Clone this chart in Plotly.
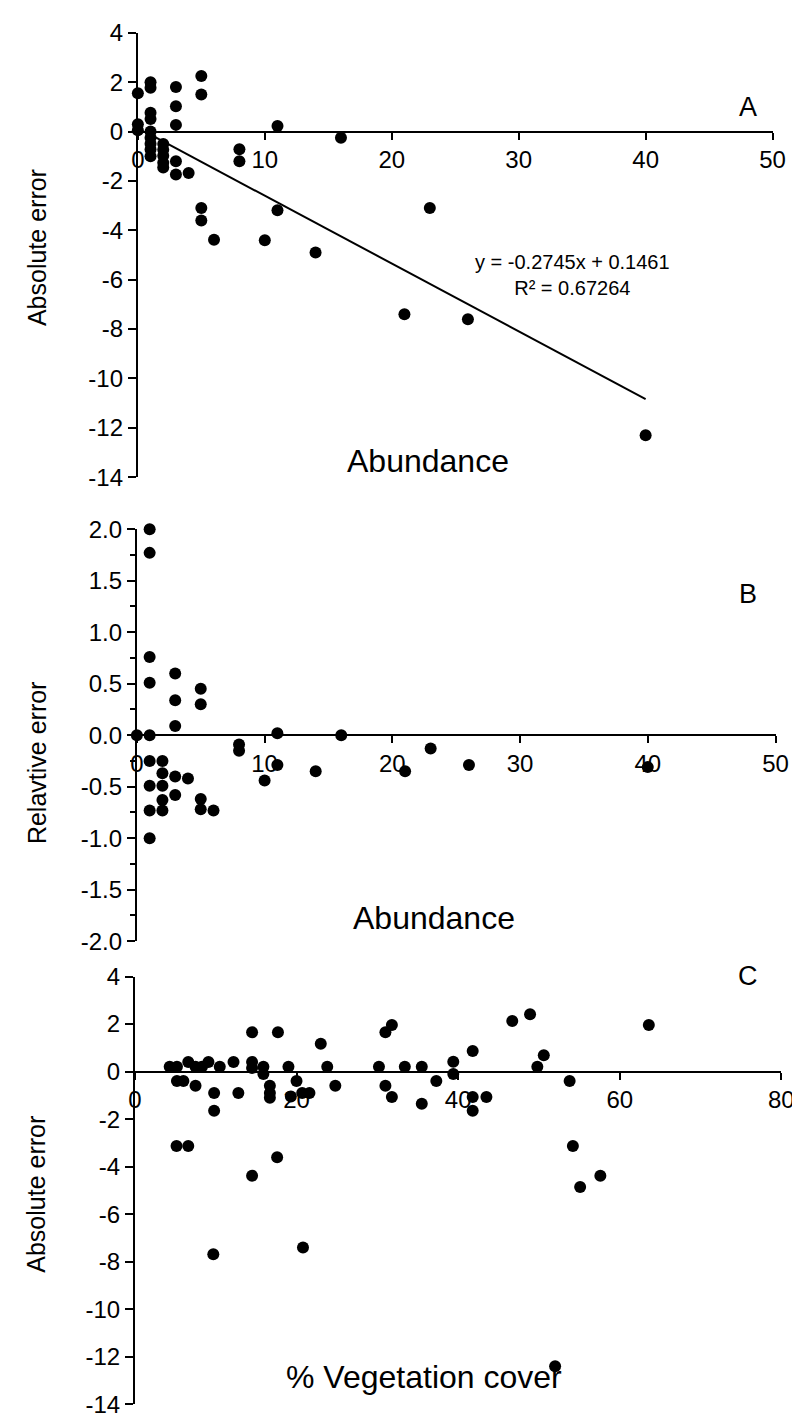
import plotly.graph_objects as go

W, H = 800, 1422

# ---------------- data ----------------
# Panel A: abundance vs absolute error
a_abund = [0, 0, 0,
           1, 1, 1, 1, 1, 1, 1, 1, 1,
           2, 2, 2, 2, 2,
           3, 3, 3, 3, 3,
           4,
           5, 5, 5, 5,
           6, 8, 8, 10, 11, 11, 14, 16, 21, 23, 26, 40]
a_abs_err = [1.55, 0.3, 0.05,
             2.0, 1.77, 0.76, 0.51, 0.0, -0.25, -0.49, -0.73, -1.0,
             -0.5, -0.74, -0.98, -1.26, -1.46,
             1.8, 1.02, 0.27, -1.2, -1.74,
             -1.68,
             2.25, 1.5, -3.1, -3.6,
             -4.38, -0.72, -1.2, -4.4, 0.22, -3.19, -4.9, -0.25, -7.4, -3.1, -7.6, -12.3]
trend_slope = -0.2745
trend_intercept = 0.1461
trend_x = [1, 40]

# Panel B: abundance vs relative error
b_abund = [0,
           1, 1, 1, 1, 1, 1, 1, 1, 1,
           2, 2, 2, 2, 2,
           3, 3, 3, 3, 3,
           4,
           5, 5, 5, 5,
           6, 8, 8, 10, 11, 11, 14, 16, 21, 23, 26, 40]
b_rel_err = [0.0,
             2.0, 1.77, 0.76, 0.51, 0.0, -0.25, -0.49, -0.73, -1.0,
             -0.25, -0.37, -0.49, -0.63, -0.73,
             0.6, 0.34, 0.09, -0.4, -0.58,
             -0.42,
             0.45, 0.3, -0.62, -0.72,
             -0.73, -0.09, -0.15, -0.44, 0.02, -0.29, -0.35, 0.0, -0.35, -0.13, -0.29, -0.31]

# Panel C: % vegetation cover vs absolute error
c_cover = [4.3, 5.2, 5.2, 6.0, 6.6, 7.5, 7.5, 8.3, 9.1, 9.8, 9.8, 10.5, 12.2, 12.8,
           14.5, 14.5, 14.5, 15.9, 15.9, 16.7, 16.7, 16.7, 17.7, 19.0, 20.0, 19.3,
           20.7, 21.6, 23.0, 23.8, 24.8, 30.2, 31.0, 31.8, 31.0, 31.8, 33.4, 35.5,
           35.5, 37.3, 39.4, 39.4, 41.8, 41.8, 41.8, 43.5, 46.7, 48.9, 49.8, 50.6,
           53.8, 63.6, 5.15, 6.6, 9.7, 14.5, 17.6, 20.8, 54.2, 55.1, 57.6, 52.0]
c_abs_err = [0.2, 0.2, -0.4, -0.4, 0.4, 0.2, -0.6, 0.2, 0.4, -0.9, -1.65, 0.2, 0.4, -0.9,
             1.65, 0.4, 0.15, 0.2, -0.1, -0.6, -0.9, -1.1, 1.65, 0.2, -0.4, -1.05,
             -0.9, -0.9, 1.17, 0.2, -0.6, 0.2, 1.65, 1.96, -0.6, -1.07, 0.2, 0.2,
             -1.35, -0.4, 0.41, -0.1, 0.87, -1.07, -1.65, -1.07, 2.13, 2.41, 0.2, 0.69,
             -0.4, 1.96, -3.13, -3.13, -7.69, -4.38, -3.61, -7.4, -3.13, -4.86, -4.38, -12.4]

a_xticks = [0, 10, 20, 30, 40, 50]
a_yticks = [4, 2, 0, -2, -4, -6, -8, -10, -12, -14]
b_yticks = [2.0, 1.5, 1.0, 0.5, 0.0, -0.5, -1.0, -1.5, -2.0]
c_xticks = [0, 20, 40, 60, 80]

# ---------------- layout helpers ----------------
FONT = "Liberation Sans, Arial, Helvetica, sans-serif"
TICKFONT = dict(family=FONT, size=24, color="black")

def px_x(p):
    return p / W

def px_y(p):
    return 1 - p / H

# panel pixel boxes: (left, right, top, bottom)
boxA = (126, 777, 11, 464)
boxB = (125, 780, 517, 937)
boxC = (123, 786, 973, 1409)

def zero_pos(box, yr):
    top, bot = px_y(box[2]), px_y(box[3])
    return bot + (0 - yr[0]) / (yr[1] - yr[0]) * (top - bot)

yrA, yrB, yrC = [-14, 4], [-2, 2], [-14, 4]

fig = go.Figure()
mk = dict(color="black", size=12)
fig.add_trace(go.Scatter(x=a_abund, y=a_abs_err, mode="markers", marker=mk,
                         xaxis="x", yaxis="y", cliponaxis=False, showlegend=False))
fig.add_trace(go.Scatter(x=trend_x, y=[trend_slope * v + trend_intercept for v in trend_x],
                         mode="lines", line=dict(color="black", width=2),
                         xaxis="x", yaxis="y", showlegend=False))
fig.add_trace(go.Scatter(x=b_abund, y=b_rel_err, mode="markers", marker=mk,
                         xaxis="x2", yaxis="y2", cliponaxis=False, showlegend=False))
fig.add_trace(go.Scatter(x=c_cover, y=c_abs_err, mode="markers", marker=mk,
                         xaxis="x3", yaxis="y3", cliponaxis=False, showlegend=False))

def xax(box, yr, rng, ticks):
    return dict(domain=[px_x(box[0]), px_x(box[1])], range=rng, anchor="free",
                position=zero_pos(box, yr),
                showline=True, linecolor="black", linewidth=2,
                ticks="outside", ticklen=7, tickwidth=2, tickcolor="black",
                tickvals=ticks, ticktext=[str(t) for t in ticks],
                tickfont=TICKFONT, showgrid=False, zeroline=False)

def yax(box, yr, ticks, fmt, xa, minor=None):
    d = dict(domain=[px_y(box[3]), px_y(box[2])], range=yr, anchor=xa,
             showline=True, linecolor="black", linewidth=2,
             ticks="outside", ticklen=8, tickwidth=2, tickcolor="black",
             tickvals=ticks, ticktext=[fmt.format(t) for t in ticks],
             tickfont=TICKFONT, showgrid=False, zeroline=False)
    if minor:
        d["minor"] = minor
    return d

fig.update_layout(
    width=W, height=H, margin=dict(l=0, r=0, t=0, b=0),
    paper_bgcolor="white", plot_bgcolor="rgba(0,0,0,0)",
    font=dict(family=FONT, color="black"),
    xaxis=xax(boxA, yrA, [0, 50], a_xticks),
    yaxis=yax(boxA, yrA, a_yticks, "{:g}", "x"),
    xaxis2=xax(boxB, yrB, [0, 50], a_xticks),
    yaxis2=yax(boxB, yrB, b_yticks, "{:.1f}", "x2",
               minor=dict(dtick=0.25, ticks="outside", ticklen=5, tickwidth=2,
                          tickcolor="black", showgrid=False)),
    xaxis3=xax(boxC, yrC, [0, 80], c_xticks),
    yaxis3=yax(boxC, yrC, a_yticks, "{:g}", "x3"),
)

def ann(text, x, y, size, angle=0, xanchor="center", yanchor="middle", align="center"):
    fig.add_annotation(text=text, x=px_x(x), y=px_y(y), xref="paper", yref="paper",
                       showarrow=False, textangle=angle, xanchor=xanchor, yanchor=yanchor,
                       align=align, font=dict(family=FONT, size=size, color="black"))

ann("A", 752, 87, 27)
ann("B", 752, 583, 27)
ann("C", 752, 972, 27)
ann("y = -0.2745x + 0.1461<br>R² = 0.67264", 572, 258, 20)
ann("Abundance", 424, 447, 32)
ann("Abundance", 430, 913, 32)
ann("% Vegetation cover", 419, 1381, 32)
ann("Absolute error", 22, 230, 25, angle=-90)
ann("Relavtive error", 22, 755, 25, angle=-90)
ann("Absolute error", 22, 1195, 25, angle=-90)

fig.write_html("out.html")
